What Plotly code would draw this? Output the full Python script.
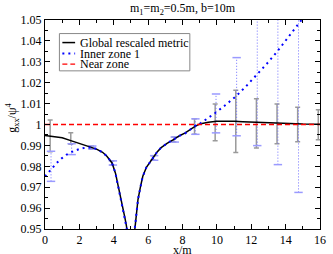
import plotly.graph_objects as go

# ---------------- data ----------------
title_text = "m<sub>1</sub>=m<sub>2</sub>=0.5m, b=10m"
x_title = "x/m"
y_title = "g<sub>xx</sub>/ψ<sup>4</sup>"
series_names = ["Global rescaled metric", "Inner zone 1", "Near zone"]

global_x = [0.0, 0.5, 1.0, 1.5, 2.0, 2.5, 2.8, 3.0, 3.35, 3.6, 3.9, 4.1, 4.26, 4.4, 4.55,
            4.65, 4.74, 4.8, 4.9, 5.1, 5.22, 5.3, 5.41, 5.55, 5.69, 5.9, 6.26, 6.5, 6.74,
            7.1, 7.5, 7.8, 8.16, 8.45, 8.73, 9.0, 9.5, 10.0, 10.5, 11.0, 11.5, 12.0, 13.0,
            14.0, 15.0, 16.0]
global_y = [0.9947, 0.9943, 0.9937, 0.9923, 0.9910, 0.9896, 0.9888, 0.9882, 0.9867, 0.9848,
            0.9816, 0.9767, 0.9705, 0.9655, 0.9593, 0.9553, 0.9514, 0.9485, 0.9400, 0.9400,
            0.9500, 0.9570, 0.9641, 0.9700, 0.9752, 0.9795, 0.9840, 0.9866, 0.9888, 0.9910,
            0.9929, 0.9945, 0.9960, 0.9977, 0.9991, 1.0002, 1.0011, 1.0015, 1.0016, 1.0015,
            1.0013, 1.0011, 1.0007, 1.0004, 1.0002, 1.0001]

inner_x = [0.0, 0.27, 0.46, 0.68, 0.97, 1.26, 1.64, 2.02, 2.4, 2.78, 3.0, 3.35, 3.6, 3.9,
           4.1, 4.26, 4.4, 4.55, 4.65, 4.74, 4.8, 4.9, 5.1, 5.22, 5.3, 5.41, 5.55, 5.69,
           5.9, 6.26, 6.5, 6.74, 7.1, 7.5, 7.8, 8.16, 8.45, 8.73, 9.0, 9.3, 9.6, 9.9, 10.5,
           11.1, 11.7, 12.3, 12.9, 13.5, 14.1, 14.7, 15.0, 15.3]
inner_y = [0.9752, 0.9778, 0.9795, 0.9816, 0.9838, 0.9856, 0.9872, 0.9883, 0.9890, 0.9890,
           0.9882, 0.9867, 0.9848, 0.9816, 0.9767, 0.9705, 0.9655, 0.9593, 0.9553, 0.9514,
           0.9485, 0.9400, 0.9400, 0.9500, 0.9570, 0.9641, 0.9700, 0.9752, 0.9795, 0.9840,
           0.9866, 0.9888, 0.9910, 0.9929, 0.9945, 0.9958, 0.9975, 0.9993, 1.0003, 1.0020,
           1.0038, 1.0055, 1.0093, 1.0134, 1.0183, 1.0235, 1.0290, 1.0348, 1.0410, 1.0475,
           1.0505, 1.0540]

near_x = [0.0, 16.0]
near_y = [1.0, 1.0]

global_bar_x = [0.3, 1.5, 2.7, 3.9, 6.3, 7.5, 8.7, 9.9, 11.1, 12.3, 13.5, 14.7, 15.9]
global_bar_y = [0.9946, 0.9933, 0.9890, 0.9816, 0.9840, 0.9928, 0.9990, 1.0010, 1.0015,
                1.0005, 1.0003, 1.0000, 0.9999]
global_bar_err = [0.0076, 0.0027, 0.0007, 0.0010, 0.0011, 0.0012, 0.0037, 0.0088, 0.0149,
                  0.0118, 0.0095, 0.0083, 0.0072]

inner_bar_x = [0.35, 1.55, 2.75, 3.95, 6.35, 7.55, 8.75, 9.95, 11.15, 12.35, 13.55, 14.75]
inner_bar_y = [0.9800, 0.9882, 0.9890, 0.9816, 0.9840, 0.9928, 0.9990, 1.0053, 1.0133,
               1.0235, 1.0348, 1.0475]
inner_bar_err = [0.0072, 0.0026, 0.0007, 0.0010, 0.0011, 0.0012, 0.0037, 0.0093, 0.0187,
                 0.0336, 0.0540, 0.0800]

x_ticks = [0, 2, 4, 6, 8, 10, 12, 14, 16]
y_ticks = [0.95, 0.96, 0.97, 0.98, 0.99, 1.0, 1.01, 1.02, 1.03, 1.04, 1.05]
y_tick_labels = ["0.95", "0.96", "0.97", "0.98", "0.99", "1", "1.01", "1.02", "1.03", "1.04", "1.05"]

# ---------------- styles ----------------
FONT = "Liberation Serif"
TXT = dict(family=FONT, size=12, color="black")
GLOBAL_STYLE = dict(color="black", width=1.5)
INNER_STYLE = dict(color="#0000ff", width=2, dash="2px,4px")
NEAR_STYLE = dict(color="#ff0000", width=1.3, dash="5px,3px")

fig = go.Figure()

# gray error bars (global metric)
fig.add_trace(go.Scatter(
    x=global_bar_x, y=global_bar_y, mode="markers", showlegend=False, hoverinfo="skip",
    marker=dict(size=1, color="rgba(0,0,0,0)"),
    error_y=dict(type="data", array=global_bar_err, color="#9a9a9a", thickness=1.5, width=2.5),
))

# blue dotted error bars (inner zone)
vx, vy, cx, cy = [], [], [], []
for x, y, e in zip(inner_bar_x, inner_bar_y, inner_bar_err):
    vx += [x, x, None]
    vy += [y - e, y + e, None]
    cx += [x, x]
    cy += [y - e, y + e]
fig.add_trace(go.Scatter(
    x=vx, y=vy, mode="lines", showlegend=False, hoverinfo="skip",
    line=dict(color="#6f6fff", width=1, dash="1px,2px"),
))
fig.add_trace(go.Scatter(
    x=cx, y=cy, mode="markers", showlegend=False, hoverinfo="skip",
    marker=dict(symbol="line-ew-open", size=6, color="#9a9aff",
                line=dict(color="#9a9aff", width=1.5)),
))

fig.add_trace(go.Scatter(x=global_x, y=global_y, mode="lines", name=series_names[0],
                         line=GLOBAL_STYLE, showlegend=False))
fig.add_trace(go.Scatter(x=inner_x, y=inner_y, mode="lines", name=series_names[1],
                         line=INNER_STYLE, showlegend=False))
fig.add_trace(go.Scatter(x=near_x, y=near_y, mode="lines", name=series_names[2],
                         line=NEAR_STYLE, showlegend=False))

# compact legend box (paper coordinates)
LEG_X0, LEG_X1, LEG_Y0, LEG_Y1 = 0.0524, 0.5267, 0.7567, 0.9351
LEG_ROWS = [0.892, 0.8397, 0.7886]
fig.add_shape(type="rect", xref="paper", yref="paper", x0=LEG_X0, x1=LEG_X1, y0=LEG_Y0, y1=LEG_Y1,
              line=dict(color="#888888", width=1), fillcolor="white", layer="above")
for name, style, ry in zip(series_names, [GLOBAL_STYLE, INNER_STYLE, NEAR_STYLE], LEG_ROWS):
    fig.add_shape(type="line", xref="paper", yref="paper", x0=0.0631, x1=0.1095, y0=ry, y1=ry,
                  line=style, layer="above")
    fig.add_annotation(text=name, xref="paper", yref="paper", x=0.1238, y=ry,
                       xanchor="left", yanchor="middle", showarrow=False, borderpad=0,
                       font=TXT)

# axis titles
fig.add_annotation(text=x_title, xref="paper", yref="paper", x=0.5, y=-0.099,
                   xanchor="center", yanchor="middle", showarrow=False, borderpad=0, font=TXT)
fig.add_annotation(text=y_title, xref="paper", yref="paper", x=-0.118, y=0.53,
                   xanchor="center", yanchor="middle", textangle=-90, showarrow=False, font=TXT)

axis_common = dict(
    showgrid=False, zeroline=False, showline=True, linecolor="black", linewidth=1,
    mirror="allticks", ticks="inside", ticklen=5, tickwidth=1, tickcolor="black",
    tickfont=TXT,
)
fig.update_xaxes(
    range=[0, 16], tickvals=x_ticks,
    minor=dict(dtick=1, ticklen=3, ticks="inside", tickcolor="black"),
    **axis_common,
)
fig.update_yaxes(
    range=[0.95, 1.05], tickvals=y_ticks, ticktext=y_tick_labels,
    minor=dict(dtick=0.005, ticklen=3, ticks="inside", tickcolor="black"),
    **axis_common,
)

fig.update_layout(
    width=333, height=254,
    margin=dict(l=45, r=7, t=20, b=25),
    paper_bgcolor="white", plot_bgcolor="white",
    title=dict(text=title_text, x=0.5, xref="paper", y=0.985, yanchor="top", font=TXT),
    showlegend=False,
    font=TXT,
)

fig.write_html("out.html", config={"displayModeBar": False},
               post_script="document.body.style.margin='0';")
